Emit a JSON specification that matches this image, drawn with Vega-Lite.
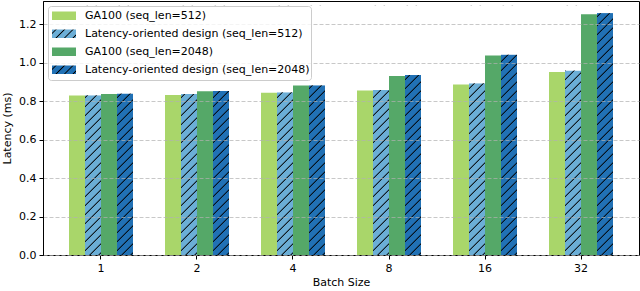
{
  "$schema": "https://vega.github.io/schema/vega-lite/v6.json",
  "usermeta": {"embedOptions": {"patch": [
    {"op": "add", "path": "/legends/0/encode", "value": {"symbols": {"update": {"fill": [
      {"test": "indexof(datum.value,'Latency')===0", "signal": "{gradient:'linear',x1:0,y1:0,x2:1.203,y2:0.426,stops:[{offset:0,color:scale('color',datum.value)},{offset:0.085,color:scale('color',datum.value)},{offset:0.123,color:'#000000'},{offset:0.162,color:scale('color',datum.value)},{offset:0.346,color:scale('color',datum.value)},{offset:0.385,color:'#000000'},{offset:0.423,color:scale('color',datum.value)},{offset:0.608,color:scale('color',datum.value)},{offset:0.646,color:'#000000'},{offset:0.685,color:scale('color',datum.value)},{offset:0.869,color:scale('color',datum.value)},{offset:0.908,color:'#000000'},{offset:0.946,color:scale('color',datum.value)},{offset:1,color:scale('color',datum.value)}]}"},
      {"scale": "color", "field": "value"}
    ]}}}}
  ]}},
  "width": 596,
  "height": 254,
  "autosize": {"type": "none"},
  "padding": {"left": 43, "top": 1, "right": 1, "bottom": 36},
  "config": {
    "font": "DejaVu Sans",
    "view": {"stroke": "black", "strokeWidth": 1},
    "axis": {
      "labelFont": "DejaVu Sans", "labelFontSize": 11, "labelColor": "black",
      "titleFont": "DejaVu Sans", "titleFontSize": 11, "titleFontWeight": "normal", "titleColor": "black",
      "tickColor": "black", "domainColor": "black", "tickSize": 4, "labelPadding": 3
    }
  },
  "data": {"values": [
    {"batch": 1, "series": "GA100 (seq_len=512)", "latency": 0.830},
    {"batch": 1, "series": "Latency-oriented design (seq_len=512)", "latency": 0.832},
    {"batch": 1, "series": "GA100 (seq_len=2048)", "latency": 0.838},
    {"batch": 1, "series": "Latency-oriented design (seq_len=2048)", "latency": 0.840},
    {"batch": 2, "series": "GA100 (seq_len=512)", "latency": 0.833},
    {"batch": 2, "series": "Latency-oriented design (seq_len=512)", "latency": 0.838},
    {"batch": 2, "series": "GA100 (seq_len=2048)", "latency": 0.852},
    {"batch": 2, "series": "Latency-oriented design (seq_len=2048)", "latency": 0.853},
    {"batch": 4, "series": "GA100 (seq_len=512)", "latency": 0.844},
    {"batch": 4, "series": "Latency-oriented design (seq_len=512)", "latency": 0.847},
    {"batch": 4, "series": "GA100 (seq_len=2048)", "latency": 0.882},
    {"batch": 4, "series": "Latency-oriented design (seq_len=2048)", "latency": 0.884},
    {"batch": 8, "series": "GA100 (seq_len=512)", "latency": 0.856},
    {"batch": 8, "series": "Latency-oriented design (seq_len=512)", "latency": 0.859},
    {"batch": 8, "series": "GA100 (seq_len=2048)", "latency": 0.932},
    {"batch": 8, "series": "Latency-oriented design (seq_len=2048)", "latency": 0.937},
    {"batch": 16, "series": "GA100 (seq_len=512)", "latency": 0.887},
    {"batch": 16, "series": "Latency-oriented design (seq_len=512)", "latency": 0.894},
    {"batch": 16, "series": "GA100 (seq_len=2048)", "latency": 1.038},
    {"batch": 16, "series": "Latency-oriented design (seq_len=2048)", "latency": 1.043},
    {"batch": 32, "series": "GA100 (seq_len=512)", "latency": 0.953},
    {"batch": 32, "series": "Latency-oriented design (seq_len=512)", "latency": 0.960},
    {"batch": 32, "series": "GA100 (seq_len=2048)", "latency": 1.253},
    {"batch": 32, "series": "Latency-oriented design (seq_len=2048)", "latency": 1.259}
  ]},
  "encoding": {
    "x": {
      "field": "batch", "type": "ordinal", "sort": [1, 2, 4, 8, 16, 32],
      "scale": {"paddingInner": 0.3333333333, "paddingOuter": 0.2708333333},
      "axis": {"title": "Batch Size", "labelAngle": 0, "grid": false, "titlePadding": 3}
    },
    "xOffset": {
      "field": "series", "type": "nominal",
      "scale": {"domain": ["GA100 (seq_len=512)", "Latency-oriented design (seq_len=512)", "GA100 (seq_len=2048)", "Latency-oriented design (seq_len=2048)"], "paddingInner": 0, "paddingOuter": 0}
    }
  },
  "layer": [
    {
      "mark": {"type": "bar"},
      "encoding": {
        "y": {
          "field": "latency", "type": "quantitative", "title": "Latency (ms)",
          "scale": {"domain": [0, 1.322], "nice": false, "zero": true},
          "axis": {"title": "Latency (ms)", "values": [0, 0.2, 0.4, 0.6, 0.8, 1.0, 1.2], "format": ".1f", "grid": true, "gridDash": [4, 2], "gridColor": "#b0b0b0", "gridOpacity": 0.7, "zindex": 1, "titlePadding": 6}
        },
        "color": {
          "field": "series", "type": "nominal",
          "scale": {"domain": ["GA100 (seq_len=512)", "Latency-oriented design (seq_len=512)", "GA100 (seq_len=2048)", "Latency-oriented design (seq_len=2048)"], "range": ["#a9d66a", "#6baed6", "#55a868", "#2171b5"]},
          "legend": {
            "title": null, "orient": "none", "legendX": 5, "legendY": 5, "zindex": 2,
            "symbolType": "M-1,-0.354H1V0.354H-1Z", "symbolSize": 576, "symbolStrokeWidth": 0, "symbolOpacity": 1, "symbolOffset": 3,
            "labelFont": "DejaVu Sans", "labelFontSize": 11, "labelColor": "black", "labelLimit": 400, "labelOffset": 9,
            "clipHeight": 17.5,
            "fillColor": "rgba(255,255,255,0.8)", "strokeColor": "#cccccc", "cornerRadius": 3, "padding": 1, "rowPadding": 0
          }
        }
      }
    },
    {
      "transform": [{"filter": "indexof(datum.series, 'Latency') === 0"}],
      "mark": {"type": "bar", "color": {"gradient": "linear", "x1": 0, "y1": 0, "x2": 0.0679, "y2": 1.0597, "stops": [
        {"offset": 0, "color": "rgba(0,0,0,0)"},
        {"offset": 0.0050, "color": "rgba(0,0,0,0)"}, {"offset": 0.0097, "color": "#000000"}, {"offset": 0.0144, "color": "rgba(0,0,0,0)"},
        {"offset": 0.0389, "color": "rgba(0,0,0,0)"}, {"offset": 0.0436, "color": "#000000"}, {"offset": 0.0483, "color": "rgba(0,0,0,0)"},
        {"offset": 0.0727, "color": "rgba(0,0,0,0)"}, {"offset": 0.0774, "color": "#000000"}, {"offset": 0.0821, "color": "rgba(0,0,0,0)"},
        {"offset": 0.1066, "color": "rgba(0,0,0,0)"}, {"offset": 0.1113, "color": "#000000"}, {"offset": 0.1160, "color": "rgba(0,0,0,0)"},
        {"offset": 0.1404, "color": "rgba(0,0,0,0)"}, {"offset": 0.1451, "color": "#000000"}, {"offset": 0.1498, "color": "rgba(0,0,0,0)"},
        {"offset": 0.1743, "color": "rgba(0,0,0,0)"}, {"offset": 0.1790, "color": "#000000"}, {"offset": 0.1837, "color": "rgba(0,0,0,0)"},
        {"offset": 0.2082, "color": "rgba(0,0,0,0)"}, {"offset": 0.2129, "color": "#000000"}, {"offset": 0.2176, "color": "rgba(0,0,0,0)"},
        {"offset": 0.2420, "color": "rgba(0,0,0,0)"}, {"offset": 0.2467, "color": "#000000"}, {"offset": 0.2514, "color": "rgba(0,0,0,0)"},
        {"offset": 0.2759, "color": "rgba(0,0,0,0)"}, {"offset": 0.2806, "color": "#000000"}, {"offset": 0.2853, "color": "rgba(0,0,0,0)"},
        {"offset": 0.3097, "color": "rgba(0,0,0,0)"}, {"offset": 0.3144, "color": "#000000"}, {"offset": 0.3191, "color": "rgba(0,0,0,0)"},
        {"offset": 0.3436, "color": "rgba(0,0,0,0)"}, {"offset": 0.3483, "color": "#000000"}, {"offset": 0.3530, "color": "rgba(0,0,0,0)"},
        {"offset": 0.3775, "color": "rgba(0,0,0,0)"}, {"offset": 0.3822, "color": "#000000"}, {"offset": 0.3869, "color": "rgba(0,0,0,0)"},
        {"offset": 0.4113, "color": "rgba(0,0,0,0)"}, {"offset": 0.4160, "color": "#000000"}, {"offset": 0.4207, "color": "rgba(0,0,0,0)"},
        {"offset": 0.4452, "color": "rgba(0,0,0,0)"}, {"offset": 0.4499, "color": "#000000"}, {"offset": 0.4546, "color": "rgba(0,0,0,0)"},
        {"offset": 0.4790, "color": "rgba(0,0,0,0)"}, {"offset": 0.4837, "color": "#000000"}, {"offset": 0.4884, "color": "rgba(0,0,0,0)"},
        {"offset": 0.5129, "color": "rgba(0,0,0,0)"}, {"offset": 0.5176, "color": "#000000"}, {"offset": 0.5223, "color": "rgba(0,0,0,0)"},
        {"offset": 0.5468, "color": "rgba(0,0,0,0)"}, {"offset": 0.5515, "color": "#000000"}, {"offset": 0.5562, "color": "rgba(0,0,0,0)"},
        {"offset": 0.5806, "color": "rgba(0,0,0,0)"}, {"offset": 0.5853, "color": "#000000"}, {"offset": 0.5900, "color": "rgba(0,0,0,0)"},
        {"offset": 0.6145, "color": "rgba(0,0,0,0)"}, {"offset": 0.6192, "color": "#000000"}, {"offset": 0.6239, "color": "rgba(0,0,0,0)"},
        {"offset": 0.6483, "color": "rgba(0,0,0,0)"}, {"offset": 0.6530, "color": "#000000"}, {"offset": 0.6577, "color": "rgba(0,0,0,0)"},
        {"offset": 0.6822, "color": "rgba(0,0,0,0)"}, {"offset": 0.6869, "color": "#000000"}, {"offset": 0.6916, "color": "rgba(0,0,0,0)"},
        {"offset": 0.7161, "color": "rgba(0,0,0,0)"}, {"offset": 0.7208, "color": "#000000"}, {"offset": 0.7255, "color": "rgba(0,0,0,0)"},
        {"offset": 0.7499, "color": "rgba(0,0,0,0)"}, {"offset": 0.7546, "color": "#000000"}, {"offset": 0.7593, "color": "rgba(0,0,0,0)"},
        {"offset": 0.7838, "color": "rgba(0,0,0,0)"}, {"offset": 0.7885, "color": "#000000"}, {"offset": 0.7932, "color": "rgba(0,0,0,0)"},
        {"offset": 0.8176, "color": "rgba(0,0,0,0)"}, {"offset": 0.8223, "color": "#000000"}, {"offset": 0.8270, "color": "rgba(0,0,0,0)"},
        {"offset": 0.8515, "color": "rgba(0,0,0,0)"}, {"offset": 0.8562, "color": "#000000"}, {"offset": 0.8609, "color": "rgba(0,0,0,0)"},
        {"offset": 0.8854, "color": "rgba(0,0,0,0)"}, {"offset": 0.8901, "color": "#000000"}, {"offset": 0.8948, "color": "rgba(0,0,0,0)"},
        {"offset": 0.9192, "color": "rgba(0,0,0,0)"}, {"offset": 0.9239, "color": "#000000"}, {"offset": 0.9286, "color": "rgba(0,0,0,0)"},
        {"offset": 0.9531, "color": "rgba(0,0,0,0)"}, {"offset": 0.9578, "color": "#000000"}, {"offset": 0.9625, "color": "rgba(0,0,0,0)"},
        {"offset": 0.9869, "color": "rgba(0,0,0,0)"}, {"offset": 0.9916, "color": "#000000"}, {"offset": 0.9963, "color": "rgba(0,0,0,0)"},
        {"offset": 1, "color": "rgba(0,0,0,0)"}
      ]}},
      "encoding": {
        "y": {"datum": 0, "type": "quantitative", "title": "Latency (ms)"},
        "y2": {"datum": 1.3}
      }
    },
    {
      "transform": [{"filter": "indexof(datum.series, 'Latency') === 0"}],
      "mark": {"type": "bar", "color": "white"},
      "encoding": {
        "y": {"field": "latency", "type": "quantitative", "title": "Latency (ms)"},
        "y2": {"datum": 1.3}
      }
    }
  ]
}
